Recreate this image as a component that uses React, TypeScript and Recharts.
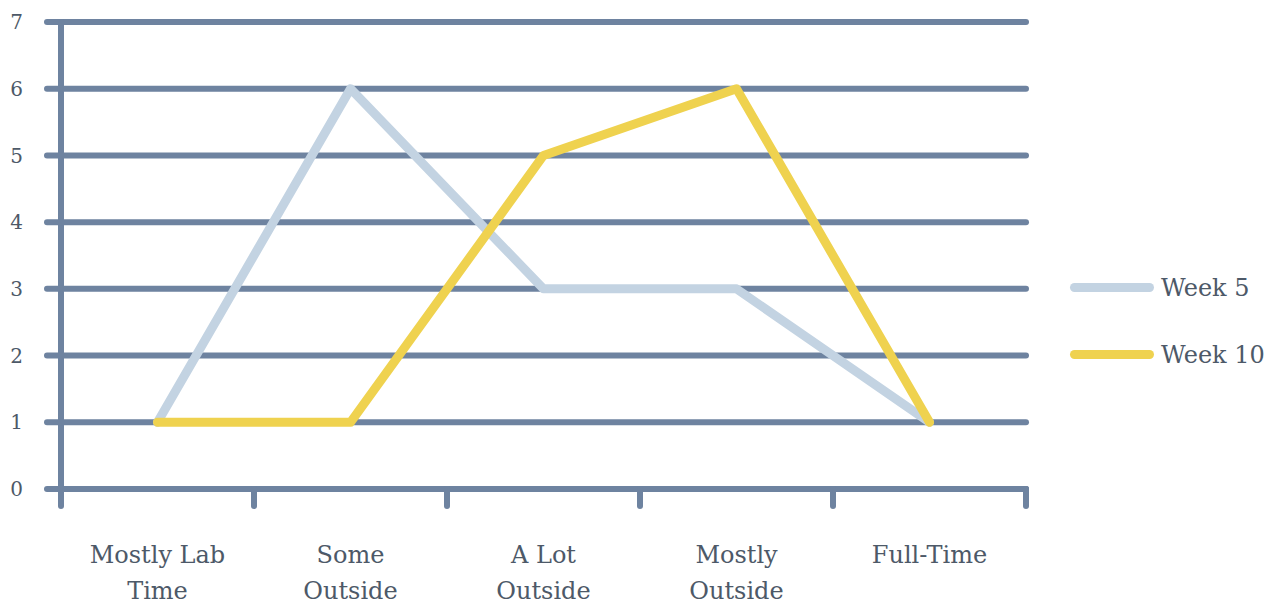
import React from 'react';
import { LineChart, Line, XAxis, YAxis, CartesianGrid, Legend } from 'recharts';

const categories = ['Mostly Lab Time', 'Some Outside', 'A Lot Outside', 'Mostly Outside', 'Full-Time'];
const tickLabels = [['Mostly Lab', 'Time'], ['Some', 'Outside'], ['A Lot', 'Outside'], ['Mostly', 'Outside'], ['Full-Time']];
const week5 = [1, 6, 3, 3, 1];
const week10 = [1, 1, 5, 6, 1];
const yTicks = [0, 1, 2, 3, 4, 5, 6, 7];

const GRID = '#6e83a0';
const TEXT = '#4d5968';
const FONT = '"DejaVu Serif", serif';

const series = [
  { key: 'week5', name: 'Week 5', color: '#c3d3e2' },
  { key: 'week10', name: 'Week 10', color: '#efd24f' },
];

const data = categories.map((c, i) => ({ category: c, week5: week5[i], week10: week10[i] }));

// label centred in the band, with tick marks on the band edges
function CategoryTick(props: any) {
  const { x, y, index, payload, width, visibleTicksCount } = props;
  const half = payload?.offset || (width && visibleTicksCount ? width / visibleTicksCount / 2 : 96);
  const lines = tickLabels[index] || [];
  const isLast = index === visibleTicksCount - 1;
  const mark = (mx: number) => (
    <line x1={mx} x2={mx} y1={y} y2={y + 17} stroke={GRID} strokeWidth={6} strokeLinecap="round" />
  );
  return (
    <g>
      {mark(x - half)}
      {isLast && mark(x + half)}
      <text x={x} y={y} textAnchor="middle" fill={TEXT} fontFamily={FONT} fontSize={24}>
        {lines.map((l, i) => (
          <tspan key={i} x={x} dy={i === 0 ? 74 : 36}>{l}</tspan>
        ))}
      </text>
    </g>
  );
}

function LegendContent() {
  return (
    <div style={{ fontFamily: FONT, fontSize: 24, color: TEXT }}>
      {series.map((s) => (
        <div key={s.key} style={{ display: 'flex', alignItems: 'center', height: 67 }}>
          <div style={{ width: 84, height: 9, borderRadius: 5, background: s.color, marginRight: 7 }} />
          <span>{s.name}</span>
        </div>
      ))}
    </div>
  );
}

export default function App() {
  return (
    <div style={{ position: 'absolute', left: 0, top: 0, background: '#fff' }}>
      <LineChart width={1281} height={604} data={data} margin={{ top: 22, right: 255, bottom: 0, left: 0 }}>
        <CartesianGrid vertical={false} stroke={GRID} strokeWidth={6} strokeLinecap="round" />
        <XAxis
          dataKey="category"
          scale="band"
          height={115}
          axisLine={{ stroke: GRID, strokeWidth: 6, strokeLinecap: 'round' }}
          tickLine={false}
          tickSize={0}
          tickMargin={0}
          tick={<CategoryTick />}
          interval={0}
        />
        <YAxis
          domain={[0, 7]}
          ticks={yTicks}
          width={61}
          axisLine={{ stroke: GRID, strokeWidth: 6, strokeLinecap: 'round' }}
          tickLine={{ stroke: GRID, strokeWidth: 6, strokeLinecap: 'round' }}
          tickSize={14}
          tickMargin={24}
          tick={{ fill: TEXT, fontFamily: FONT, fontSize: 20 }}
        />
        <Legend
          layout="horizontal"
          verticalAlign="middle"
          align="center"
          wrapperStyle={{ left: 1070, top: 254, width: 211 }}
          content={<LegendContent />}
        />
        {series.map((s) => (
          <Line
            key={s.key}
            dataKey={s.key}
            name={s.name}
            stroke={s.color}
            strokeWidth={9}
            strokeLinejoin="round"
            strokeLinecap="round"
            dot={false}
            activeDot={false}
            isAnimationActive={false}
          />
        ))}
      </LineChart>
    </div>
  );
}
